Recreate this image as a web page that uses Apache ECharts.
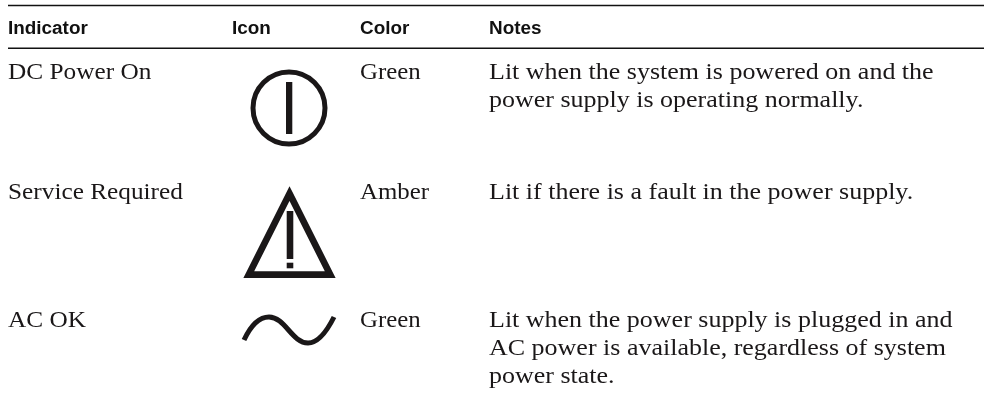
<!DOCTYPE html>
<html>
<head>
<meta charset="utf-8">
<style>
    html, body { margin: 0; padding: 0; background: #fff; }
    #main { width: 990px; height: 395px; }
</style>
<script src="https://cdn.jsdelivr.net/npm/echarts@6/dist/echarts.min.js"></script>
</head>
<body>
<div id="main"></div>
<script>
const headers = ['Indicator', 'Icon', 'Color', 'Notes'];
const indicators = ['DC Power On', 'Service Required', 'AC OK'];
const lampColors = ['Green', 'Amber', 'Green'];
const notes = [
    ['Lit when the system is powered on and the', 'power supply is operating normally.'],
    ['Lit if there is a fault in the power supply.'],
    ['Lit when the power supply is plugged in and', 'AC power is available, regardless of system', 'power state.']
];

// layout, pixels
const colX = [8, 232, 360, 489];
const rowBase = [79, 199, 327];
const lineGap = 28;
const ink = '#1a1718';
const bodyFont = {size: 23, family: '"Liberation Serif", serif', fill: ink, weight: 'normal', up: 17.5};
const headFont = {size: 18, family: '"Liberation Sans", sans-serif', fill: '#111', weight: 'bold', up: 14};

const els = [];
const addText = (text, x, base, f, scale) => {
    els.push({
        type: 'text',
        x: x,
        y: base - f.up,
        scaleX: scale,
        style: {
            text: text,
            fill: f.fill,
            font: f.weight + ' ' + f.size + 'px ' + f.family,
            verticalAlign: 'top'
        }
    });
};

headers.forEach((h, i) => addText(h, colX[i], 34, headFont, 1.05));
indicators.forEach((t, i) => addText(t, colX[0], rowBase[i], bodyFont, 1.1));
lampColors.forEach((t, i) => addText(t, colX[2], rowBase[i], bodyFont, 1.08));
notes.forEach((lines, i) => lines.forEach((t, j) => addText(t, colX[3], rowBase[i] + j * lineGap, bodyFont, 1.13)));

// table rules
[5.5, 48.3].forEach(y => els.push({
    type: 'line',
    shape: {x1: 8, y1: y, x2: 984, y2: y},
    style: {stroke: '#111', lineWidth: 1.5}
}));

// power icon
els.push({type: 'circle', shape: {cx: 289, cy: 108, r: 36}, style: {fill: 'none', stroke: ink, lineWidth: 5}});
els.push({type: 'rect', shape: {x: 286, y: 82, width: 6.3, height: 52}, style: {fill: ink}});

// warning icon
els.push({
    type: 'polygon',
    shape: {points: [[289.5, 193.6], [330.2, 274.6], [248.8, 274.6]]},
    style: {fill: 'none', stroke: ink, lineWidth: 6.7, lineJoin: 'miter'}
});
els.push({type: 'rect', shape: {x: 286.7, y: 211, width: 6.6, height: 48}, style: {fill: ink}});
els.push({type: 'rect', shape: {x: 286.7, y: 262.7, width: 6.6, height: 5.6}, style: {fill: ink}});

// sine icon
[
    {x1: 244, y1: 340, cpx1: 252, cpy1: 323, cpx2: 260, cpy2: 317, x2: 269, y2: 317},
    {x1: 269, y1: 317, cpx1: 285, cpy1: 317, cpx2: 292, cpy2: 343, x2: 308, y2: 343},
    {x1: 308, y1: 343, cpx1: 318, cpy1: 343, cpx2: 326, cpy2: 333, x2: 334, y2: 317}
].forEach(s => els.push({
    type: 'bezierCurve',
    shape: s,
    style: {fill: 'none', stroke: ink, lineWidth: 5}
}));

const myChart = echarts.init(document.getElementById('main'));
myChart.setOption({
    animation: false,
    graphic: {elements: els}
});
</script>
</body>
</html>
